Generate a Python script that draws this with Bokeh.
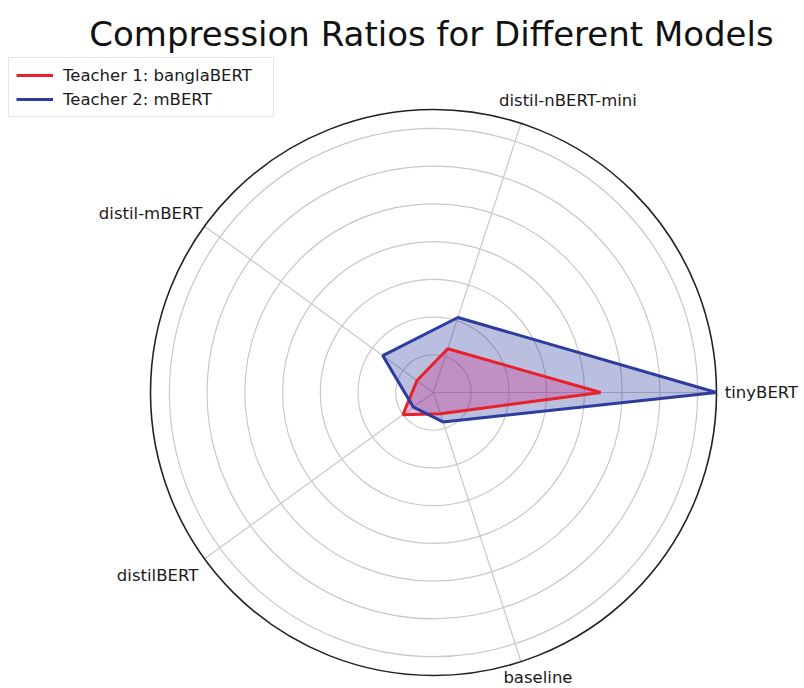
import numpy as np
from bokeh.plotting import figure
from bokeh.models import Range1d, Label, ColumnDataSource, Legend, LegendItem
from bokeh.core.properties import value
from bokeh.embed import file_html
from bokeh.resources import INLINE

# --- data -------------------------------------------------------------
categories = ["tinyBERT", "distil-nBERT-mini", "distil-mBERT", "distilBERT", "baseline"]
teacher1 = [4.43, 1.22, 0.54, 1.00, 0.59]   # Teacher 1: banglaBERT
teacher2 = [7.50, 2.09, 1.66, 0.66, 0.82]   # Teacher 2: mBERT
grid_ticks = [1, 2, 3, 4, 5, 6, 7]
r_max = 7.5

# --- layout / style ---------------------------------------------------
W, H = 804, 688
cx_px, cy_px = 433, 392          # centre of the radar in canvas pixels
outer_px = 283                   # radius of the outer ring in pixels
s = outer_px / r_max             # pixels per data unit (same on both axes)

FONT = "DejaVu Sans"
RED = "#e8202a"
RED_FILL = "#cc2288"
BLUE = "#2d3c9e"

# pixel offsets of each category label from its spoke end
label_dx = [45, 47, -54, -47, 17]
label_dy = [0, -23, -13, 17, 16]

n = len(categories)
angles = np.arange(n) * 2 * np.pi / n


def polar_xy(values):
    r = np.asarray(values, dtype=float)
    return list(r * np.cos(angles)), list(r * np.sin(angles))


p = figure(
    width=W, height=H,
    x_range=Range1d(-cx_px / s, (W - cx_px) / s),
    y_range=Range1d(-(H - cy_px) / s, cy_px / s),
    output_backend="svg", toolbar_location=None,
    min_border=0, outline_line_color=None,
)
p.axis.visible = False
p.grid.visible = False
p.background_fill_color = "white"
p.border_fill_color = "white"

# concentric grid rings
p.circle(x=[0] * len(grid_ticks), y=[0] * len(grid_ticks), radius=grid_ticks,
         fill_color=None, line_color="#c8c8c8", line_width=1.2)

# spokes
spoke_x = [[0, r_max * np.cos(a)] for a in angles]
spoke_y = [[0, r_max * np.sin(a)] for a in angles]
p.multi_line(spoke_x, spoke_y, line_color="#c8c8c8", line_width=1.2)

# outer ring
p.circle(x=[0], y=[0], radius=[r_max], fill_color=None,
         line_color="#222222", line_width=1.6)

# filled areas
x2, y2 = polar_xy(teacher2)
x1, y1 = polar_xy(teacher1)
p.patch(x2, y2, fill_color=BLUE, fill_alpha=0.33, line_color=None)
p.patch(x1, y1, fill_color=RED_FILL, fill_alpha=0.3, line_color=None)

# outlines
r1 = p.line(x1 + x1[:1], y1 + y1[:1], line_color=RED, line_width=3)
r2 = p.line(x2 + x2[:1], y2 + y2[:1], line_color=BLUE, line_width=3)

# category labels at the outer ring
lx, ly = polar_xy([r_max] * n)
src = ColumnDataSource(dict(x=lx, y=ly, text=categories, dx=label_dx, dy=label_dy))
p.text(x="x", y="y", text="text", x_offset="dx", y_offset="dy", source=src,
       text_align="center", text_baseline="middle",
       text_font=value(FONT), text_font_size="16.5px", text_color="#1a1a1a")

# title
p.add_layout(Label(x=431, y=H - 33, x_units="screen", y_units="screen",
                   text="Compression Ratios for Different Models",
                   text_align="center", text_baseline="middle",
                   text_font=FONT, text_font_size="34px", text_color="#111111"))

legend = Legend(items=[LegendItem(label="Teacher 1: banglaBERT", renderers=[r1]),
                       LegendItem(label="Teacher 2: mBERT", renderers=[r2])],
                location=(8, H - 117))
legend.margin = 0
legend.padding = 7
legend.spacing = 4
legend.glyph_width = 37
legend.glyph_height = 20
legend.label_height = 20
legend.label_width = 203
legend.label_standoff = 10
legend.label_text_font = FONT
legend.label_text_font_size = "16.5px"
legend.label_text_color = "#1a1a1a"
legend.border_line_color = "#cccccc"
legend.border_line_width = 1
legend.background_fill_alpha = 0.85
p.add_layout(legend)

open("out.html", "w").write(file_html(p, INLINE))
